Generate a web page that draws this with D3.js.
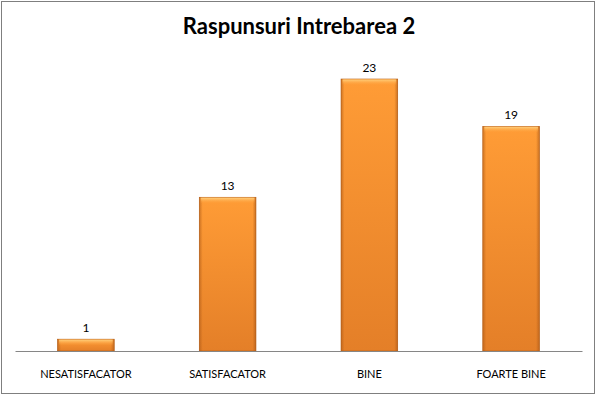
<!DOCTYPE html>
<html>
<head>
<meta charset="utf-8">
<script src="https://cdn.jsdelivr.net/npm/d3@7"></script>
<style>
  body { margin: 0; background: #fff; }
  text { font-family: Lato, "Open Sans", sans-serif; fill: #000; }
</style>
</head>
<body>
<script>
// chart data
var categories = ["NESATISFACATOR", "SATISFACATOR", "BINE", "FOARTE BINE"];
var values = [1, 13, 23, 19];
var chartTitle = "Raspunsuri Intrebarea 2";

var svgWidth = 598;
var svgHeight = 397;

// plot area
var plot = { left: 15, right: 582, top: 79, bottom: 351 };

var svg = d3.select("body")
  .append("svg")
  .attr("width", svgWidth)
  .attr("height", svgHeight);

// outer border
svg.append("rect")
  .attr("x", 1.5)
  .attr("y", 1.5)
  .attr("width", svgWidth - 5)
  .attr("height", svgHeight - 5)
  .attr("fill", "#fff")
  .attr("stroke", "#7f7f7f");

// bar gradients
var defs = svg.append("defs");
var vFill = defs.append("linearGradient")
  .attr("id", "barFill")
  .attr("x1", "0%").attr("x2", "0%").attr("y1", "0%").attr("y2", "100%");
vFill.append("stop").attr("offset", "0%").attr("stop-color", "#ff9c36");
vFill.append("stop").attr("offset", "100%").attr("stop-color", "#e47f28");

var hEdge = defs.append("linearGradient")
  .attr("id", "barEdge")
  .attr("x1", "0%").attr("x2", "100%").attr("y1", "0%").attr("y2", "0%");
hEdge.append("stop").attr("offset", "0%").attr("stop-color", "#a65414").attr("stop-opacity", 0.55);
hEdge.append("stop").attr("offset", "6%").attr("stop-color", "#a65414").attr("stop-opacity", 0);
hEdge.append("stop").attr("offset", "94%").attr("stop-color", "#a65414").attr("stop-opacity", 0);
hEdge.append("stop").attr("offset", "100%").attr("stop-color", "#a65414").attr("stop-opacity", 0.6);

var vTop = defs.append("linearGradient")
  .attr("id", "barTop")
  .attr("x1", "0%").attr("x2", "0%").attr("y1", "0%").attr("y2", "100%");
vTop.append("stop").attr("offset", "0%").attr("stop-color", "#ffd27f").attr("stop-opacity", 0.95);
vTop.append("stop").attr("offset", "100%").attr("stop-color", "#ff9c36").attr("stop-opacity", 0);

// scales
var xBandScale = d3.scaleBand()
  .domain(categories)
  .range([plot.left, plot.right])
  .paddingInner(0.6)
  .paddingOuter(0.3);

var yLinearScale = d3.scaleLinear()
  .domain([0, 23])
  .range([plot.bottom, plot.top]);

var data = categories.map(function(c, i) { return { cat: c, val: values[i] }; });

// bars
var bars = svg.selectAll(".bar")
  .data(data)
  .enter()
  .append("g")
  .attr("class", "bar");

bars.append("rect")
  .attr("x", d => xBandScale(d.cat))
  .attr("y", d => yLinearScale(d.val))
  .attr("width", xBandScale.bandwidth())
  .attr("height", d => plot.bottom - yLinearScale(d.val))
  .attr("fill", "url(#barFill)")
  .attr("stroke", "#b35d18")
  .attr("stroke-width", 0.6);

bars.append("rect")
  .attr("x", d => xBandScale(d.cat))
  .attr("y", d => yLinearScale(d.val))
  .attr("width", xBandScale.bandwidth())
  .attr("height", d => plot.bottom - yLinearScale(d.val))
  .attr("fill", "url(#barEdge)");

bars.append("rect")
  .attr("x", d => xBandScale(d.cat) + 1.5)
  .attr("y", d => yLinearScale(d.val) + 0.5)
  .attr("width", xBandScale.bandwidth() - 3)
  .attr("height", d => Math.min(6, plot.bottom - yLinearScale(d.val) - 1))
  .attr("fill", "url(#barTop)");

// value labels
bars.append("text")
  .attr("x", d => xBandScale(d.cat) + xBandScale.bandwidth() / 2)
  .attr("y", d => yLinearScale(d.val) - 7)
  .attr("text-anchor", "middle")
  .attr("font-size", "12px")
  .text(d => d.val);

// x axis
var bottomAxis = d3.axisBottom(xBandScale).tickSize(0).tickPadding(19);
var axisG = svg.append("g")
  .attr("transform", `translate(0, ${plot.bottom})`)
  .call(bottomAxis);
axisG.select(".domain").attr("stroke", "#868686");
axisG.selectAll("text")
  .attr("font-size", "11px")
  .attr("font-family", "Lato, 'Open Sans', sans-serif")
  .attr("fill", "#000");

// title
svg.append("text")
  .attr("x", 299)
  .attr("y", 34)
  .attr("text-anchor", "middle")
  .attr("font-size", "22px")
  .attr("font-weight", "bold")
  .text(chartTitle);
</script>
</body>
</html>
